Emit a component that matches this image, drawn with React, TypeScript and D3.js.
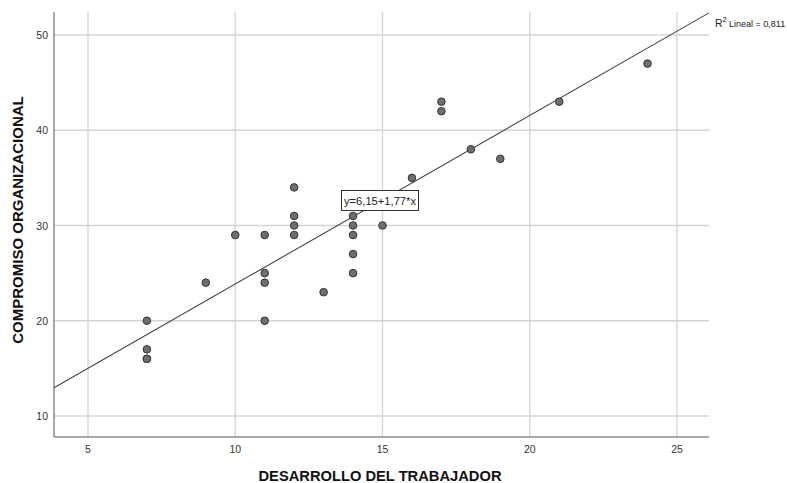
import React from "react";
import * as d3 from "d3";

const xValues = [7, 7, 7, 7, 9, 10, 11, 11, 11, 11, 12, 12, 12, 12, 13, 14, 14, 14, 14, 14, 15, 16, 17, 17, 18, 19, 21, 24];
const yValues = [20, 17, 16, 16, 24, 29, 29, 25, 24, 20, 34, 31, 30, 29, 23, 31, 30, 29, 27, 25, 30, 35, 43, 42, 38, 37, 43, 47];
const xTicks = [5, 10, 15, 20, 25];
const yTicks = [10, 20, 30, 40, 50];
const intercept = 6.15;
const slope = 1.77;
const eqLabel = "y=6,15+1,77*x";
const r2Label = "0,811";
const xTitle = "DESARROLLO DEL TRABAJADOR";
const yTitle = "COMPROMISO ORGANIZACIONAL";

export default function App() {
  const W = 787, H = 483;
  const left = 54, right = 709, top = 12, bottom = 437;
  const x = d3.scaleLinear().domain([5, 25]).range([88, 677]);
  const y = d3.scaleLinear().domain([10, 50]).range([416, 35]);
  const xd = [x.invert(left), x.invert(right)];
  const yd = [y.invert(bottom), y.invert(top)];
  const f = (v: number) => intercept + slope * v;
  let x0 = xd[0], x1 = xd[1];
  if (f(x1) > yd[1]) x1 = (yd[1] - intercept) / slope;
  if (f(x0) < yd[0]) x0 = (yd[0] - intercept) / slope;
  const line = d3.line<number>().x((v) => x(v)).y((v) => y(f(v)));
  const pts = xValues.map((v, i) => [v, yValues[i]]);
  const eqCx = 380, eqCy = 200.5;
  const font = "Arial, 'Liberation Sans', sans-serif";
  return (
    <svg width={W} height={H} style={{ position: "absolute", left: 0, top: 0, background: "#fff" }} fontFamily={font}>
      {xTicks.map((t) => (
        <line key={"gx" + t} x1={x(t)} x2={x(t)} y1={top} y2={bottom} stroke="#d4d4d4" strokeWidth={1.3} />
      ))}
      {yTicks.map((t) => (
        <line key={"gy" + t} x1={left} x2={right} y1={y(t)} y2={y(t)} stroke="#d4d4d4" strokeWidth={1.3} />
      ))}
      <line x1={left} x2={left} y1={top} y2={bottom} stroke="#555" strokeWidth={1} />
      <line x1={left} x2={right} y1={bottom} y2={bottom} stroke="#555" strokeWidth={1} />
      {xTicks.map((t) => (
        <text key={"tx" + t} x={x(t)} y={453} fontSize={10.5} fill="#333" textAnchor="middle">{t}</text>
      ))}
      {yTicks.map((t) => (
        <text key={"ty" + t} x={left - 6} y={y(t) + 4} fontSize={10.5} fill="#333" textAnchor="end">{t}</text>
      ))}
      <path d={line([x0, x1]) || ""} stroke="#444" strokeWidth={1.1} fill="none" />
      {pts.map((p, i) => (
        <circle key={i} cx={x(p[0])} cy={y(p[1])} r={3.8} fill="#6e6e6e" stroke="#333" strokeWidth={1} />
      ))}
      <g>
        <rect x={eqCx - 38.5} y={eqCy - 10} width={77} height={20} fill="#fff" stroke="#333" strokeWidth={1} />
        <text x={eqCx} y={eqCy + 4} fontSize={11} fill="#222" textAnchor="middle" textLength={72} lengthAdjust="spacingAndGlyphs">{eqLabel}</text>
      </g>
      <text x={715} y={27} fontSize={10.5} fill="#222">R</text>
      <text x={722.5} y={22} fontSize={7.5} fill="#222">2</text>
      <text x={729} y={27} fontSize={9} fill="#222">{"Lineal = " + r2Label}</text>
      <text x={380} y={481} fontSize={15} fontWeight="bold" fill="#111" textAnchor="middle" textLength={243} lengthAdjust="spacingAndGlyphs">{xTitle}</text>
      <text transform={`translate(23, 220) rotate(-90)`} fontSize={15} fontWeight="bold" fill="#111" textAnchor="middle">{yTitle}</text>
    </svg>
  );
}
